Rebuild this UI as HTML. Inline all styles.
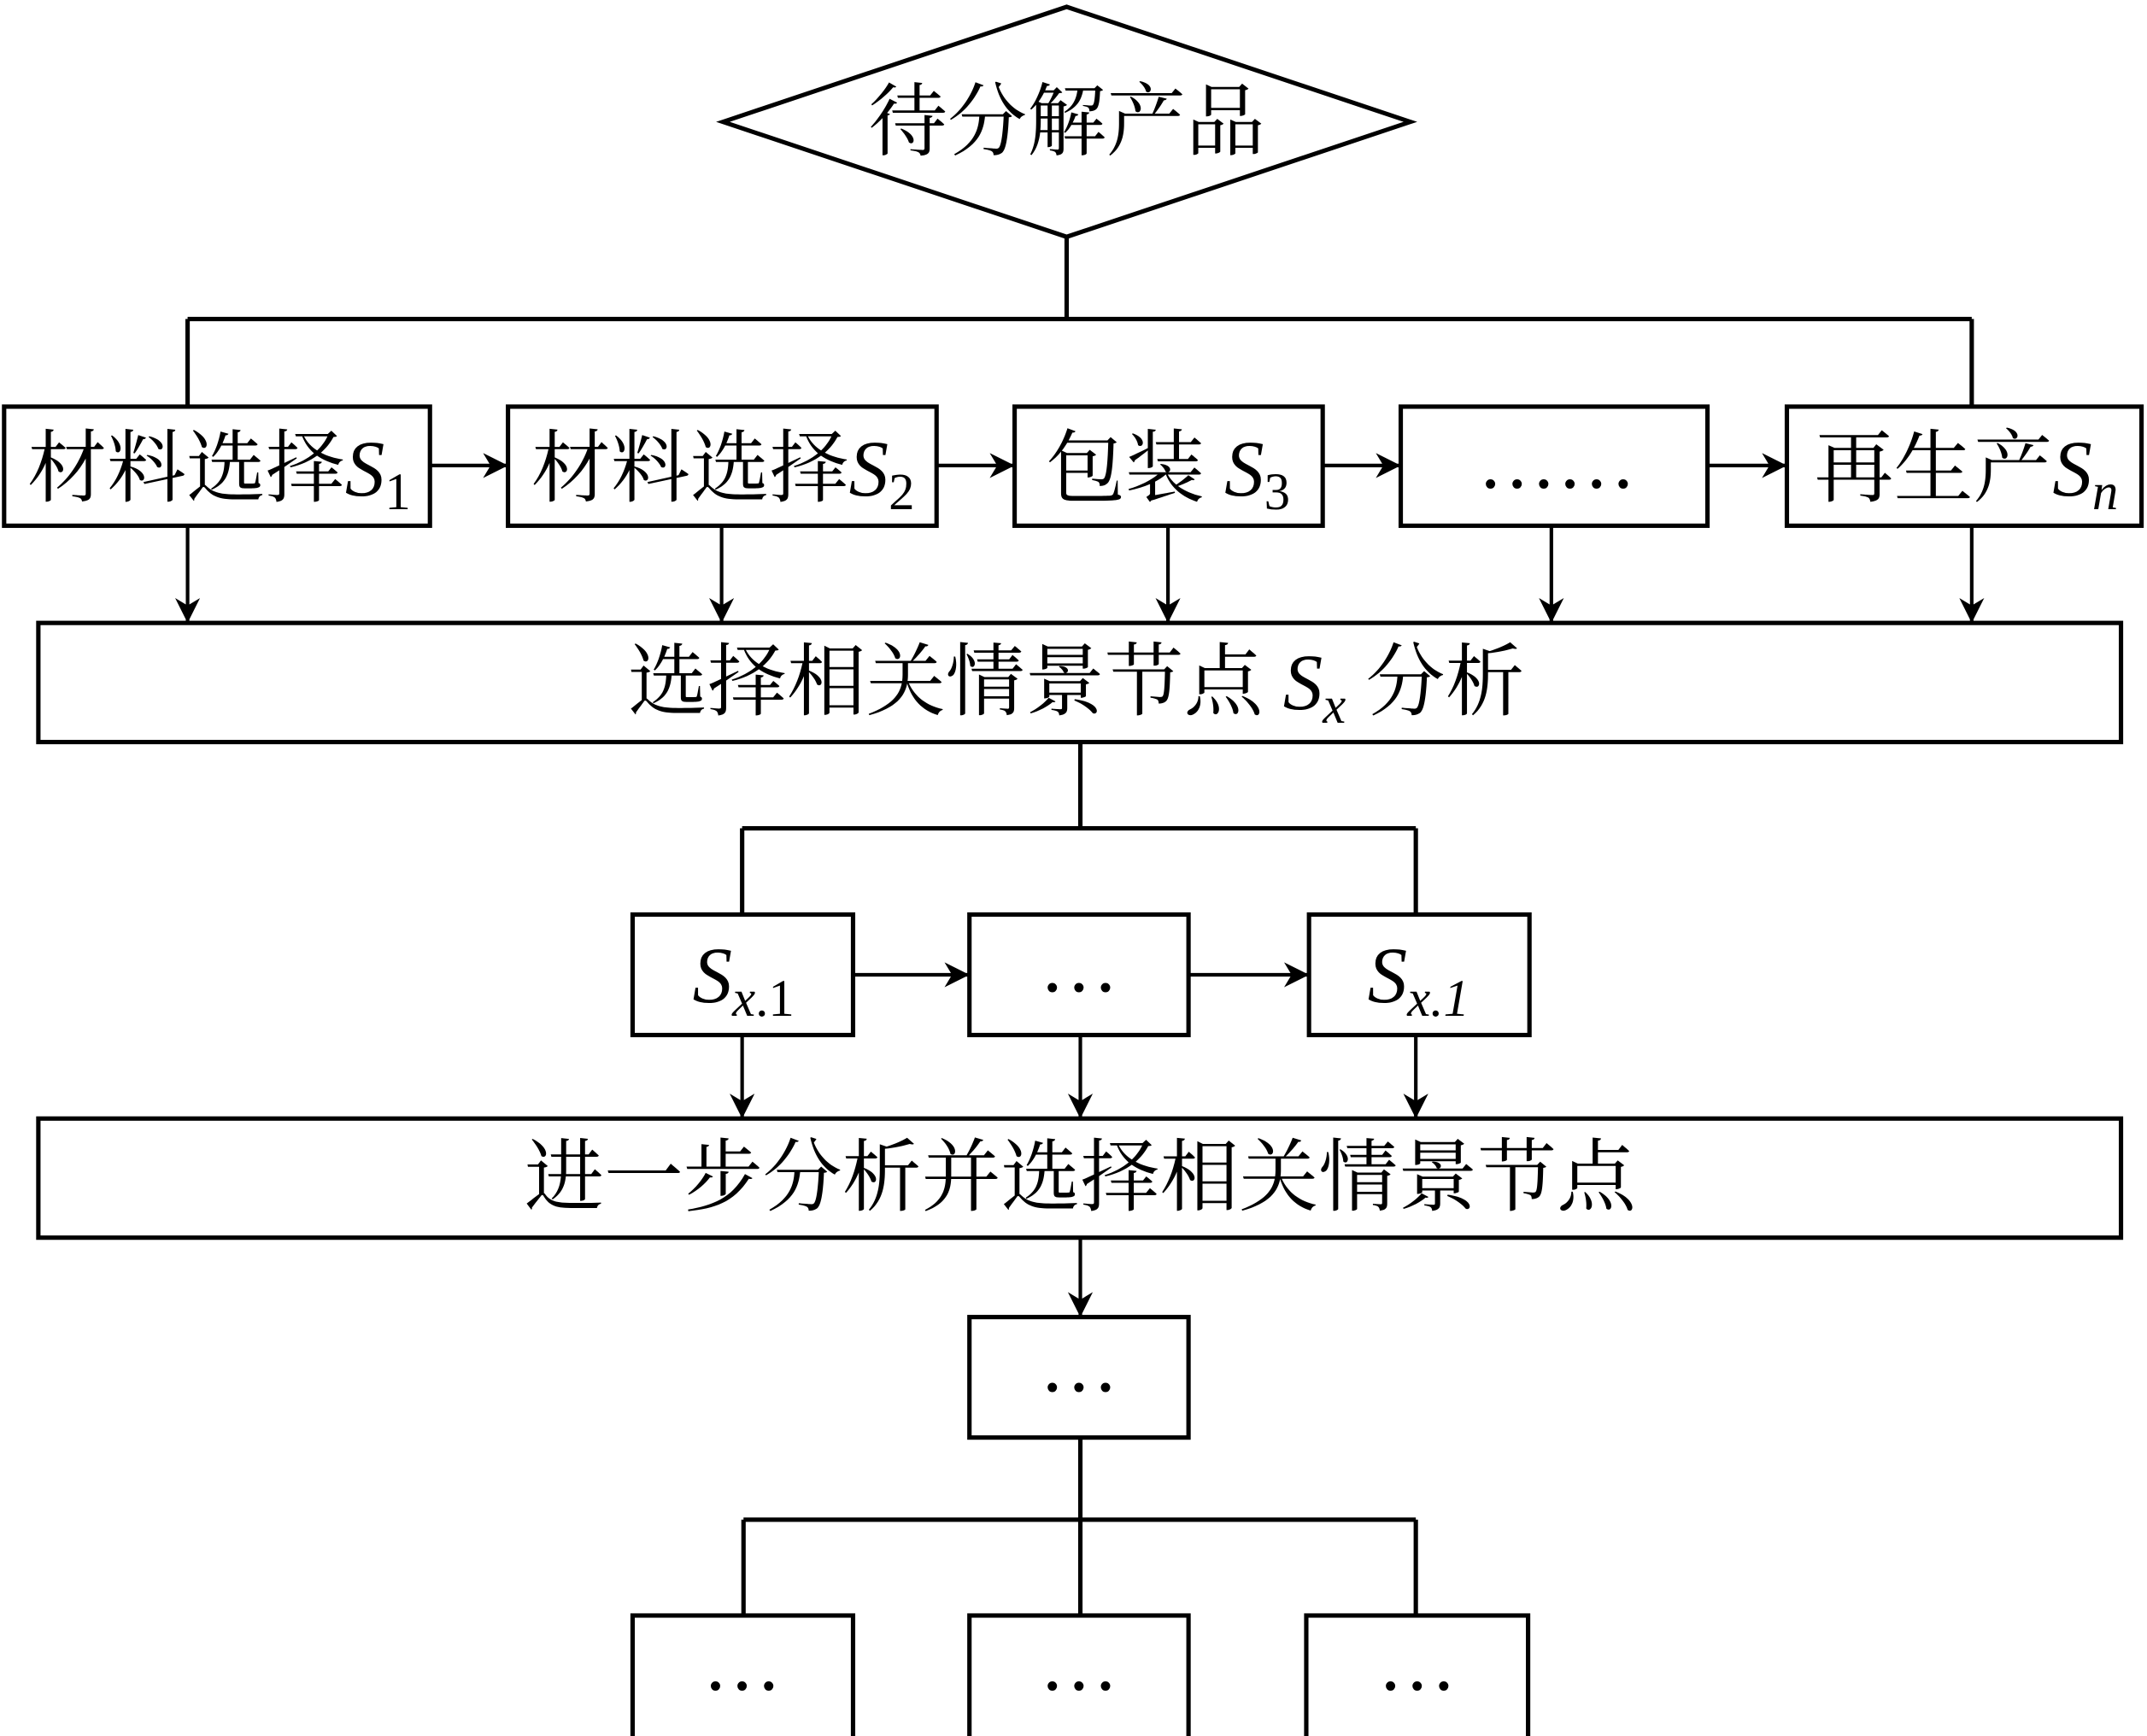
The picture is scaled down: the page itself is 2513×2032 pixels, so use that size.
<!DOCTYPE html>
<html><head><meta charset="utf-8"><style>html,body{margin:0;padding:0;background:#fff}svg{display:block}</style></head>
<body>
<svg xmlns="http://www.w3.org/2000/svg" width="2513" height="2032" viewBox="0 0 1568 1268" preserveAspectRatio="none">
<defs><marker id="a" viewBox="0 0 10 10" refX="10" refY="5" markerWidth="7" markerHeight="5" markerUnits="userSpaceOnUse" orient="auto"><path d="M0,0 L10,5 L0,10 L3,5 z" fill="#000"/></marker>
<marker id="b" viewBox="0 0 10 10" refX="10" refY="5" markerWidth="9" markerHeight="7" orient="auto" markerUnits="strokeWidth"><path d="M0,0 L10,5 L0,10 L3,5 z" fill="#000"/></marker></defs>
<g fill="none" stroke="#000" stroke-width="3.2">
<polygon points="528,89 779,5 1030,89 779,173" fill="#fff"/>
<path d="M779,173V233M137,233H1440M137,233V297M1440,233V297"/>
<rect x="3" y="297" width="311" height="87"/>
<rect x="371" y="297" width="313" height="87"/>
<rect x="741" y="297" width="225" height="87"/>
<rect x="1023" y="297" width="224" height="87"/>
<rect x="1305" y="297" width="259" height="87"/>
<rect x="28" y="455" width="1521" height="87"/>
<path d="M789,542V605M542,605H1034M542,605V668M1034,605V668"/>
<rect x="462" y="668" width="161" height="88"/>
<rect x="708" y="668" width="160" height="88"/>
<rect x="956" y="668" width="161" height="88"/>
<rect x="28" y="817" width="1521" height="87"/>
<rect x="708" y="962" width="160" height="88"/>
<path d="M789,1050V1110M543,1110H1034M543,1110V1180M789,1110V1180M1034,1110V1180"/>
<rect x="462" y="1180" width="161" height="90"/>
<rect x="708" y="1180" width="160" height="90"/>
<rect x="954" y="1180" width="162" height="90"/>
</g>
<g stroke="#000" stroke-width="2.6" marker-end="url(#b)">
<line x1="314" y1="340" x2="371" y2="340"/>
<line x1="684" y1="340" x2="741" y2="340"/>
<line x1="966" y1="340" x2="1023" y2="340"/>
<line x1="1247" y1="340" x2="1305" y2="340"/>
<line x1="137" y1="384" x2="137" y2="455"/>
<line x1="527" y1="384" x2="527" y2="455"/>
<line x1="853" y1="384" x2="853" y2="455"/>
<line x1="1133" y1="384" x2="1133" y2="455"/>
<line x1="1440" y1="384" x2="1440" y2="455"/>
<line x1="623" y1="712" x2="708" y2="712"/>
<line x1="868" y1="712" x2="956" y2="712"/>
<line x1="542" y1="756" x2="542" y2="817"/>
<line x1="789" y1="756" x2="789" y2="817"/>
<line x1="1034" y1="756" x2="1034" y2="817"/>
<line x1="789" y1="904" x2="789" y2="962"/>
</g>
<g font-family="'Liberation Serif','Noto Serif CJK SC',serif" font-size="58" fill="#000" text-anchor="middle">
<text x="779" y="109">待分解产品</text>
<text x="160" y="362">材料选择<tspan font-style="italic">S</tspan><tspan font-size="38" dy="10">1</tspan></text>
<text x="528" y="362">材料选择<tspan font-style="italic">S</tspan><tspan font-size="38" dy="10">2</tspan></text>
<text x="853" y="362">包装 <tspan font-style="italic">S</tspan><tspan font-size="38" dy="10">3</tspan></text>
<text x="1137" y="356">……</text>
<text x="1436" y="362">再生产<tspan font-style="italic">S</tspan><tspan font-size="38" font-style="italic" dy="10">n</tspan></text>
<text x="786" y="518">选择相关情景节点 <tspan font-style="italic">S</tspan><tspan font-size="38" font-style="italic" dy="10">x</tspan><tspan dy="-10"> 分析</tspan></text>
<text x="543" y="732"><tspan font-style="italic">S</tspan><tspan font-size="38" dy="10"><tspan font-style="italic">x</tspan>.1</tspan></text>
<text x="788" y="724">…</text>
<text x="1036" y="732"><tspan font-style="italic">S</tspan><tspan font-size="38" font-style="italic" dy="10">x.1</tspan></text>
<text x="789" y="880">进一步分析并选择相关情景节点</text>
<text x="788" y="1016">…</text>
<text x="542" y="1234">…</text>
<text x="788" y="1234">…</text>
<text x="1035" y="1234">…</text>
</g>
</svg>
</body></html>
